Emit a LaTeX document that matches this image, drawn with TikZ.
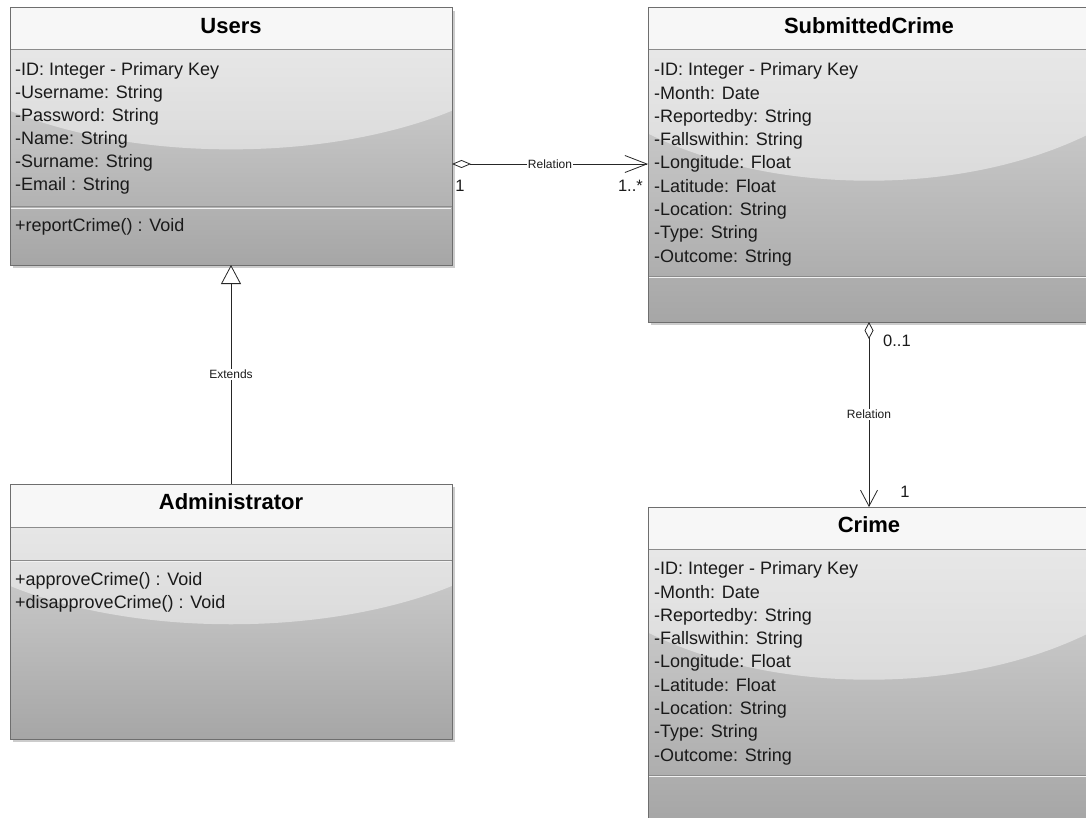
\documentclass[tikz,border=0pt]{standalone}
\usepackage{fontspec}
\setmainfont{Liberation Sans}
\usetikzlibrary{arrows.meta,calc}
\definecolor{boxline}{HTML}{6E6E6E}
\definecolor{bodytop}{HTML}{DCDCDC}
\definecolor{bodybot}{HTML}{A6A6A6}
\definecolor{headfill}{HTML}{F7F7F7}
\definecolor{sepline}{HTML}{8C8C8C}
\definecolor{txt}{HTML}{1A1A1A}
\tikzset{
  attr/.style={anchor=base west, inner sep=0pt, text=txt, font=\fontsize{18}{22}\selectfont},
  ctitle/.style={anchor=base, inner sep=0pt, text=black, font=\bfseries\fontsize{22}{26}\selectfont},
  conn/.style={draw=black!85, line width=0.8pt},
  lbl/.style={fill=white, inner sep=1pt, text=txt, font=\fontsize{12}{14}\selectfont},
  mult/.style={inner sep=0pt, text=txt, font=\fontsize{16.5}{19}\selectfont},
}
% name, x, y, height, header bottom offset, second separator offset, title
\newcommand{\classbox}[7]{%
  \node[anchor=north west, minimum width=442pt, minimum height=#4pt, inner sep=0pt, outer sep=0pt] (#1) at (#2,#3) {};
  \fill[black, opacity=0.2] ($(#1.north west)+(3,3)$) rectangle ($(#1.south east)+(3,3)$);
  \shade[top color=bodytop, bottom color=bodybot] (#1.north west) rectangle (#1.south east);
  \begin{scope}
    \clip (#1.north west) rectangle (#1.south east);
    \fill[white, opacity=0.45] ($(#1.north)+(0,{-0.038*#4})$) ellipse [x radius=331pt, y radius={0.588*#4pt}];
  \end{scope}
  \fill[headfill] (#1.north west) rectangle ($(#1.north east)+(0,#5)$);
  \draw[sepline, line width=1pt] ($(#1.north west)+(0,#5)$) -- ($(#1.north east)+(0,#5)$);
  \draw[sepline, line width=1pt] ($(#1.north west)+(0,#6)$) -- ($(#1.north east)+(0,#6)$);
  \draw[white!90!gray, line width=0.8pt] ($(#1.north west)+(1,#6+1.5)$) -- ($(#1.north east)+(-1,#6+1.5)$);
  \draw[boxline, line width=1pt] (#1.north west) rectangle (#1.south east);
  \node[ctitle] (#1-title) at ($(#1.north)+(0,25.5)$) {#7};
}
\begin{document}
\begin{tikzpicture}[x=1pt,y=-1pt]
\useasboundingbox (0,0) rectangle (1086,818);
\fill[white] (0,0) rectangle (1086,818);
\clip (0,0) rectangle (1086,818);

\classbox{users}{10}{8}{257}{42}{199}{Users}
\classbox{sub}{648}{8}{314}{42}{268}{SubmittedCrime}
\classbox{admin}{10}{484}{255}{43}{76}{Administrator}
\classbox{crime}{648}{507}{314}{42}{268}{Crime}

% Users
\foreach \t [count=\i] in {-ID: Integer - Primary Key,-Username: String,-Password: String,-Name: String,-Surname: String,-Email : String}
  \node[attr] (users-a\i) at ($(users.north west)+(5,{68+(\i-1)*22.9})$) {\t};
\node[attr] (users-m1) at ($(users.north west)+(5,223.7)$) {+reportCrime() : Void};

% SubmittedCrime
\foreach \t [count=\i] in {-ID: Integer - Primary Key,-Month: Date,-Reportedby: String,-Fallswithin: String,-Longitude: Float,-Latitude: Float,-Location: String,-Type: String,-Outcome: String}
  \node[attr] (sub-a\i) at ($(sub.north west)+(6,{68+(\i-1)*23.25})$) {\t};

% Crime
\foreach \t [count=\i] in {-ID: Integer - Primary Key,-Month: Date,-Reportedby: String,-Fallswithin: String,-Longitude: Float,-Latitude: Float,-Location: String,-Type: String,-Outcome: String}
  \node[attr] (crime-a\i) at ($(crime.north west)+(6,{67.7+(\i-1)*23.3})$) {\t};

% Administrator
\foreach \t [count=\i] in {+approveCrime() : Void,+disapproveCrime() : Void}
  \node[attr] (admin-m\i) at ($(admin.north west)+(5,{101+(\i-1)*23.3})$) {\t};

% Connectors
\coordinate (relY) at (0,164);
\draw[conn, {Diamond[open,length=19pt,width=8pt]}-{Straight Barb[length=22pt,width=17pt]}]
  (users.east |- relY) -- node[lbl] (rel1) {Relation} (sub.west |- relY);
\node[mult, anchor=base] (m1) at ($(users.east |- relY)+(8,27.7)$) {1};
\node[mult, anchor=base east] (m2) at ($(sub.west |- relY)+(-5,27.7)$) {1..*};

\draw[conn, {Diamond[open,length=17pt,width=9pt]}-{Straight Barb[length=16pt,width=17pt]}]
  (sub.south) -- node[lbl] (rel2) {Relation} (crime.north);
\node[mult, anchor=base west] (m3) at ($(sub.south)+(14,24.7)$) {0..1};
\node[mult, anchor=base] (m4) at ($(crime.north)+(36,-10)$) {1};

\draw[conn, -{Triangle[open,length=19pt,width=20pt]}]
  (admin.north) -- node[lbl] (ext) {Extends} (users.south);
\end{tikzpicture}
\end{document}
